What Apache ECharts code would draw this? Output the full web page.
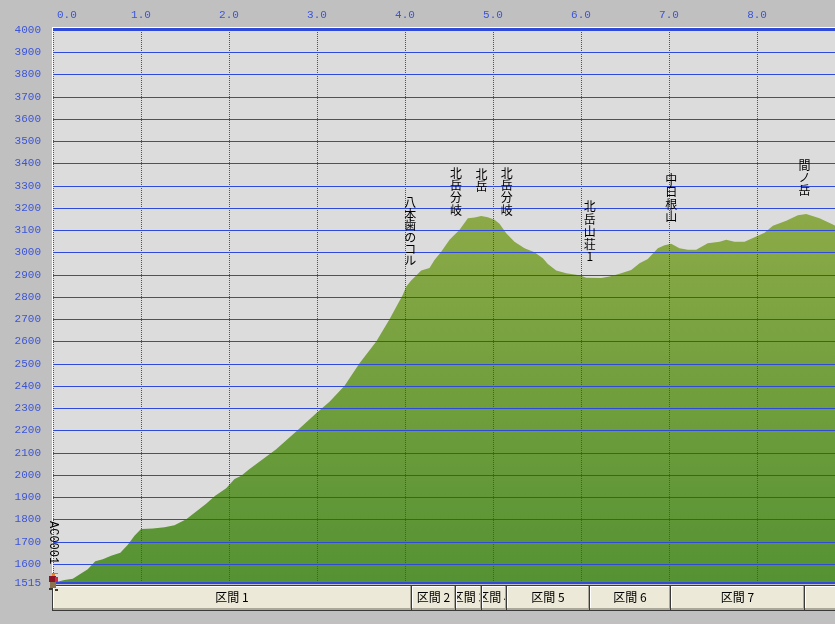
<!DOCTYPE html>
<html><head><meta charset="utf-8">
<style>html,body{margin:0;padding:0;background:#C0C0C0}#c{width:835px;height:624px}</style>
<script src="https://cdn.jsdelivr.net/npm/echarts@6/dist/echarts.min.js"></script>
</head><body><div id="c"></div>
<script>
const distanceKm = [0,0.06,0.13,0.225,0.30,0.395,0.48,0.566,0.66,0.765,0.85,0.926,1.0,1.134,1.267,1.38,1.514,1.627,1.74,1.843,1.968,2.063,2.139,2.222,2.536,2.782,3.0,3.142,3.313,3.483,3.673,3.824,3.975,4.014,4.07,4.184,4.278,4.335,4.411,4.506,4.62,4.714,4.79,4.866,4.941,5.017,5.074,5.15,5.244,5.358,5.472,5.566,5.623,5.718,5.832,5.983,6.059,6.23,6.324,6.438,6.57,6.665,6.759,6.873,6.949,7.025,7.119,7.214,7.309,7.44,7.574,7.65,7.744,7.858,7.991,8.085,8.18,8.332,8.464,8.559,8.71,8.886];
const elevationM = [1515,1522,1528,1534,1553,1577,1613,1622,1637,1651,1687,1727,1758,1760,1766,1775,1802,1836,1871,1907,1941,1982,1997,2024,2116,2203,2281,2330,2401,2503,2600,2700,2810,2847,2874,2919,2931,2967,3004,3057,3102,3154,3157,3164,3159,3147,3129,3087,3049,3019,3001,2974,2948,2919,2907,2898,2887,2886,2892,2905,2922,2952,2971,3019,3033,3039,3019,3012,3012,3042,3048,3057,3049,3049,3072,3089,3120,3143,3168,3173,3154,3121];
const yTicks = [1515,1600,1700,1800,1900,2000,2100,2200,2300,2400,2500,2600,2700,2800,2900,3000,3100,3200,3300,3400,3500,3600,3700,3800,3900,4000];
const placeNames = ['八本歯のコル','北岳分岐','北岳','北岳分岐','北岳山荘1','中白根山','間ノ岳'];
const placeKm = [4.06,4.58,4.87,5.155,6.10,7.025,8.54];
const placeLabelElev = [3250,3385,3380,3385,3233,3356,3420];
const startName = 'AC0001';
const sectionNames = ['区間 1','区間 2','区間 3','区間 4','区間 5','区間 6','区間 7','区間 8'];
const sectionEnds = [0,4.08,4.58,4.875,5.16,6.10,7.02,8.545,9.6];

const BLUE = '#2F49D8', LABEL = '#3C55D8';
const XMAX = 8.886;
const fontMono = '"Liberation Mono","DejaVu Sans Mono",monospace';
const fontCJK = '"Noto Sans CJK JP",sans-serif';

const chart = echarts.init(document.getElementById('c'), null, {renderer:'canvas'});
chart.setOption({
  animation:false,
  backgroundColor:'#C0C0C0',
  graphic:[
    {type:'rect',silent:true,z:1,shape:{x:52,y:27,width:783,height:1},style:{fill:'#fff'}},
    {type:'rect',silent:true,z:1,shape:{x:52,y:27,width:1,height:557},style:{fill:'#fff'}},
    {type:'rect',silent:true,z:20,shape:{x:53,y:28,width:782,height:2},style:{fill:BLUE}},
    {type:'rect',silent:true,z:20,shape:{x:53,y:582,width:782,height:2},style:{fill:BLUE}}
  ],
  grid:[
    {left:53,top:30,width:782,height:553,show:true,backgroundColor:'#DCDCDC',borderWidth:0},
    {left:53,top:585,width:782,height:25,show:false}
  ],
  xAxis:[
    {type:'value',gridIndex:0,position:'top',min:0,max:XMAX,interval:1,z:5,
     axisLine:{show:false},axisTick:{show:false},
     axisLabel:{color:LABEL,fontFamily:fontMono,fontSize:11,margin:9,showMaxLabel:false,hideOverlap:false,
       alignMinLabel:'left',
       formatter:v=>v===0?'{first|'+v.toFixed(1)+'}':v.toFixed(1),
       rich:{first:{color:LABEL,fontFamily:fontMono,fontSize:11,padding:[0,0,0,4]}}},
     splitLine:{show:true,lineStyle:{color:BLUE,width:1,type:[1,1]}}},
    {type:'value',gridIndex:1,min:0,max:XMAX,show:false}
  ],
  yAxis:[
    {type:'value',gridIndex:0,min:1515,max:4000,z:5,
     axisLine:{show:false},
     axisTick:{show:false,customValues:yTicks},
     axisLabel:{color:LABEL,fontFamily:fontMono,fontSize:11,margin:12,customValues:yTicks,hideOverlap:false,
       formatter:v=>String(v)},
     splitLine:{show:true,lineStyle:{color:BLUE,width:1,type:'solid'}}},
    {type:'value',gridIndex:1,min:0,max:1,show:false}
  ],
  series:[
    {type:'line',xAxisIndex:0,yAxisIndex:0,z:2,symbol:'none',showSymbol:false,smooth:false,
     data:distanceKm.map((d,i)=>[d,elevationM[i]]),
     lineStyle:{width:0},
     areaStyle:{opacity:1,color:new echarts.graphic.LinearGradient(0,0,0,1,[{offset:0,color:'#8CAA47'},{offset:1,color:'#559233'}])}},
    {type:'custom',xAxisIndex:0,yAxisIndex:0,z:10,clip:false,silent:true,
     data:placeNames.map((n,i)=>[placeKm[i],placeLabelElev[i],n]),
     renderItem:(p,api)=>{
       const c=api.coord([api.value(0),api.value(1)]);
       const name=placeNames[p.dataIndex];
       return {type:'text',x:c[0],y:c[1],style:{text:name.split('').join('\n'),align:'center',verticalAlign:'top',
         fill:'#000',font:'12px '+fontCJK,lineHeight:name.length>5?11.6:12.4}};
     }},
    {type:'custom',xAxisIndex:0,yAxisIndex:0,z:30,clip:false,silent:true,
     data:[[0,1515]],
     renderItem:(p,api)=>{
       const c=api.coord([api.value(0),api.value(1)]);
       return {type:'group',x:c[0],y:c[1],children:[
         {type:'text',x:0,y:-62,rotation:-Math.PI/2,style:{text:startName,align:'left',verticalAlign:'middle',fill:'#000',font:'12px '+fontMono}},
         {type:'rect',shape:{x:-1,y:-10,width:6,height:1},style:{fill:'#8a8a80'}},
         {type:'rect',shape:{x:-1,y:-9,width:3,height:2},style:{fill:'#E8862A'}},
         {type:'rect',shape:{x:-4,y:-7,width:7,height:6},style:{fill:'#8C1428'}},
         {type:'rect',shape:{x:2,y:-6,width:3,height:5},style:{fill:'#D8283C'}},
         {type:'rect',shape:{x:-3,y:-1,width:6,height:6},style:{fill:'#8A7250'}},
         {type:'rect',shape:{x:-4,y:5,width:3,height:2},style:{fill:'#40382C'}},
         {type:'rect',shape:{x:2,y:6,width:3,height:2},style:{fill:'#40382C'}}
       ]};
     }},
    {type:'custom',xAxisIndex:1,yAxisIndex:1,z:3,clip:false,silent:true,
     data:sectionNames.map((n,i)=>[sectionEnds[i],sectionEnds[i+1],n]),
     renderItem:(p,api)=>{
       const a=api.coord([api.value(0),1]),b=api.coord([api.value(1),0]);
       const x0=Math.round(a[0])-1,x1=Math.round(b[0]),y0=585,h=25,w=x1-x0;
       return {type:'group',x:x0,y:y0,children:[
         {type:'rect',shape:{x:0,y:0,width:w,height:h+1},style:{fill:'#3A3A3A'}},
         {type:'rect',shape:{x:1,y:1,width:w-2,height:h-1},style:{fill:'#ACA899'}},
         {type:'rect',shape:{x:1,y:1,width:w-3,height:h-3},style:{fill:'#FFFFFF'}},
         {type:'rect',shape:{x:2,y:2,width:w-4,height:h-4},style:{fill:'#ECE9D8'}},
         {type:'group',clipPath:{type:'rect',shape:{x:2,y:2,width:w-4,height:h-4}},children:[
           {type:'text',x:w/2,y:h/2,style:{text:sectionNames[p.dataIndex],align:'center',verticalAlign:'middle',fill:'#000',font:'12px '+fontCJK}}
         ]}
       ]};
     }}
  ]
});
</script></body></html>
